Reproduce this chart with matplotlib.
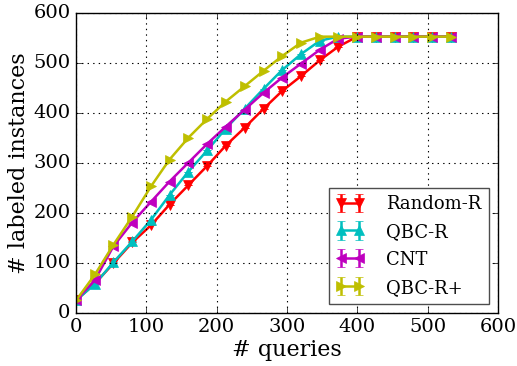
import numpy as np
import matplotlib
matplotlib.use('Agg')
import matplotlib.pyplot as plt

plt.style.use('classic')
plt.rcParams['font.family'] = 'serif'
plt.rcParams['font.serif'] = ['DejaVu Serif']

queries = [0, 27, 53, 80, 107, 133, 160, 187, 213, 240, 267,
           293, 320, 347, 373, 400, 427, 453, 480, 507, 533]

random_r = [25, 59, 99, 141, 176, 217, 256, 295, 335, 371, 409,
            444, 474, 506, 533, 553, 553, 553, 553, 553, 553]
qbc_r = [25, 58, 101, 143, 187, 236, 283, 326, 369, 409, 449,
         486, 518, 545, 553, 553, 553, 553, 553, 553, 553]
cnt = [25, 66, 133, 181, 223, 263, 301, 339, 373, 407, 441,
       471, 499, 527, 549, 553, 553, 553, 553, 553, 553]
qbc_r_plus = [25, 77, 136, 193, 254, 307, 351, 389, 423, 454, 485,
              514, 541, 553, 553, 553, 553, 553, 553, 553, 553]

# spread over runs is negligible at this scale
err = [0] * len(queries)

series = [
    ('Random-R', random_r, 'r', 'v'),
    ('QBC-R', qbc_r, 'c', '^'),
    ('CNT', cnt, 'm', '<'),
    ('QBC-R+', qbc_r_plus, 'y', '>'),
]

fig = plt.figure(figsize=(5.17, 3.66), dpi=100, facecolor='white')
ax = fig.add_axes([0.147, 0.145, 0.816, 0.819])

for name, vals, c, m in series:
    ax.errorbar(queries, vals, yerr=err, color=c, marker=m, markersize=6.5,
                markeredgecolor=c, linewidth=1.8, capsize=3, label=name)

ax.set_xlim(0, 600)
ax.set_ylim(0, 600)
ax.set_xticks(np.arange(0, 601, 100))
ax.set_yticks(np.arange(0, 601, 100))
ax.tick_params(labelsize=14)
ax.grid(True, color='k', linestyle=':', linewidth=0.8)
ax.set_xlabel('# queries', fontsize=16, labelpad=2)
ax.set_ylabel('# labeled instances', fontsize=16, labelpad=2)

leg = ax.legend(loc='lower right', fontsize=13, numpoints=2, fancybox=False,
                handlelength=1.6, handletextpad=1.2, labelspacing=0.55,
                borderaxespad=0.5)
leg.get_frame().set_edgecolor('0.3')

fig.savefig('out.png', dpi=100, facecolor='white')
